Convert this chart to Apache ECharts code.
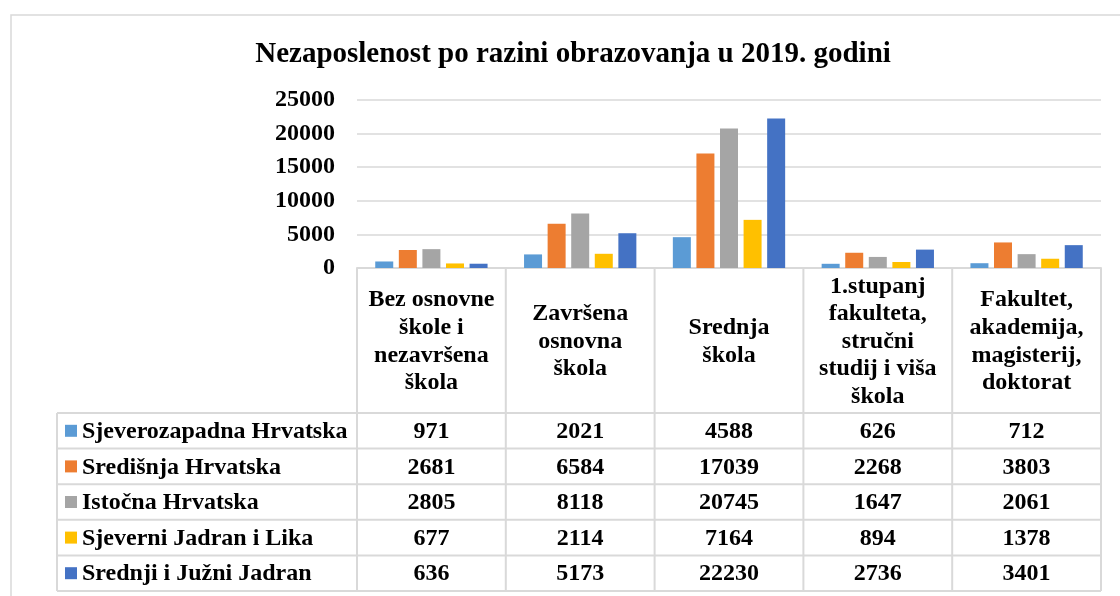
<!DOCTYPE html>
<html>
<head>
<meta charset="utf-8">
<script src="https://cdn.jsdelivr.net/npm/echarts@6/dist/echarts.min.js"></script>
<style>
  html, body { margin: 0; padding: 0; background: #fff; }
  #chart { width: 1120px; height: 596px; }
</style>
</head>
<body>
<div id="chart"></div>
<script>
const categories = [
  'Bez osnovne\nškole i\nnezavršena\nškola',
  'Završena\nosnovna\nškola',
  'Srednja\nškola',
  '1.stupanj\nfakulteta,\nstručni\nstudij i viša\nškola',
  'Fakultet,\nakademija,\nmagisterij,\ndoktorat'
];
const regions = ['Sjeverozapadna Hrvatska', 'Središnja Hrvatska', 'Istočna Hrvatska', 'Sjeverni Jadran i Lika', 'Srednji i Južni Jadran'];
const sjeverozapadna = [971, 2021, 4588, 626, 712];
const sredisnja = [2681, 6584, 17039, 2268, 3803];
const istocna = [2805, 8118, 20745, 1647, 2061];
const sjeverniJadran = [677, 2114, 7164, 894, 1378];
const juzniJadran = [636, 5173, 22230, 2736, 3401];
const yMax = 25000, yStep = 5000;

const colors = ['#5B9BD5', '#ED7D31', '#A5A5A5', '#FFC000', '#4472C4'];
const seriesData = [sjeverozapadna, sredisnja, istocna, sjeverniJadran, juzniJadran];
const FONT = 'Liberation Serif, Times New Roman, serif';
const lineCol = '#D9D9D9';

// layout of plot + data table
const gridLeft = 357, gridRight = 19, gridTop = 100, gridBottom = 328;
const headerBottom = 413, tableBottom = 591, labelLeft = 57;

let myChart = echarts.init(document.getElementById('chart'));
myChart.setOption({
  animation: false,
  title: {
    text: 'Nezaposlenost po razini obrazovanja u 2019. godini',
    left: 568,
    top: 35,
    textAlign: 'center',
    textStyle: { fontFamily: FONT, fontSize: 29, fontWeight: 'bold', color: '#000' }
  },
  grid: { left: gridLeft, right: gridRight, top: gridTop, bottom: gridBottom },
  xAxis: {
    type: 'category',
    data: categories,
    axisTick: { show: false },
    axisLabel: { show: false },
    axisLine: { lineStyle: { color: lineCol, width: 2 } }
  },
  yAxis: {
    type: 'value',
    min: 0,
    max: yMax,
    interval: yStep,
    axisLine: { show: false },
    axisTick: { show: false },
    axisLabel: {
      margin: 22, fontFamily: FONT, fontSize: 24, fontWeight: 'bold', color: '#000',
      formatter: v => String(v)
    },
    splitLine: { lineStyle: { color: lineCol, width: 1.5 } }
  },
  series: seriesData.map((d, i) => ({
    name: regions[i],
    type: 'bar',
    data: d,
    barWidth: 18,
    barGap: '31%',
    itemStyle: { color: colors[i] }
  }))
});

// data table under the plot, column positions taken from the x axis
const bw = (1120 - gridLeft - gridRight) / categories.length;
const rowH = (tableBottom - headerBottom) / regions.length;
const graphic = [];
const line = (x1, y1, x2, y2) => graphic.push({
  type: 'line', shape: { x1, y1, x2, y2 }, style: { stroke: lineCol, lineWidth: 2 }
});

// outer chart border
graphic.push({ type: 'rect', shape: { x: 11, y: 15, width: 1130, height: 600 }, style: { fill: null, stroke: lineCol, lineWidth: 1.5 } });

for (let i = 0; i <= categories.length; i++) {
  const x = gridLeft + i * bw;
  line(x, 596 - gridBottom, x, tableBottom);
}
for (let r = 0; r <= regions.length; r++) {
  const y = headerBottom + r * rowH;
  line(labelLeft, y, 1120 - gridRight, y);
}
line(labelLeft, headerBottom, labelLeft, tableBottom);

categories.forEach((c, i) => {
  const cx = myChart.convertToPixel({ xAxisIndex: 0 }, i);
  graphic.push({
    type: 'text',
    style: {
      text: c, x: cx, y: (596 - gridBottom + headerBottom) / 2 + 1,
      textAlign: 'center', textVerticalAlign: 'middle',
      font: 'bold 24px ' + FONT, lineHeight: 27.6, fill: '#000'
    }
  });
  seriesData.forEach((d, r) => {
    graphic.push({
      type: 'text',
      style: {
        text: String(d[i]), x: cx, y: headerBottom + (r + 0.5) * rowH + 1,
        textAlign: 'center', textVerticalAlign: 'middle',
        font: 'bold 24px ' + FONT, fill: '#000'
      }
    });
  });
});

regions.forEach((name, r) => {
  const cy = headerBottom + (r + 0.5) * rowH;
  graphic.push({ type: 'rect', shape: { x: 65, y: cy - 6, width: 12, height: 12 }, style: { fill: colors[r] } });
  graphic.push({
    type: 'text',
    style: {
      text: name, x: 82, y: cy + 1,
      textAlign: 'left', textVerticalAlign: 'middle',
      font: 'bold 24px ' + FONT, fill: '#000'
    }
  });
});

myChart.setOption({ graphic: graphic });
</script>
</body>
</html>
